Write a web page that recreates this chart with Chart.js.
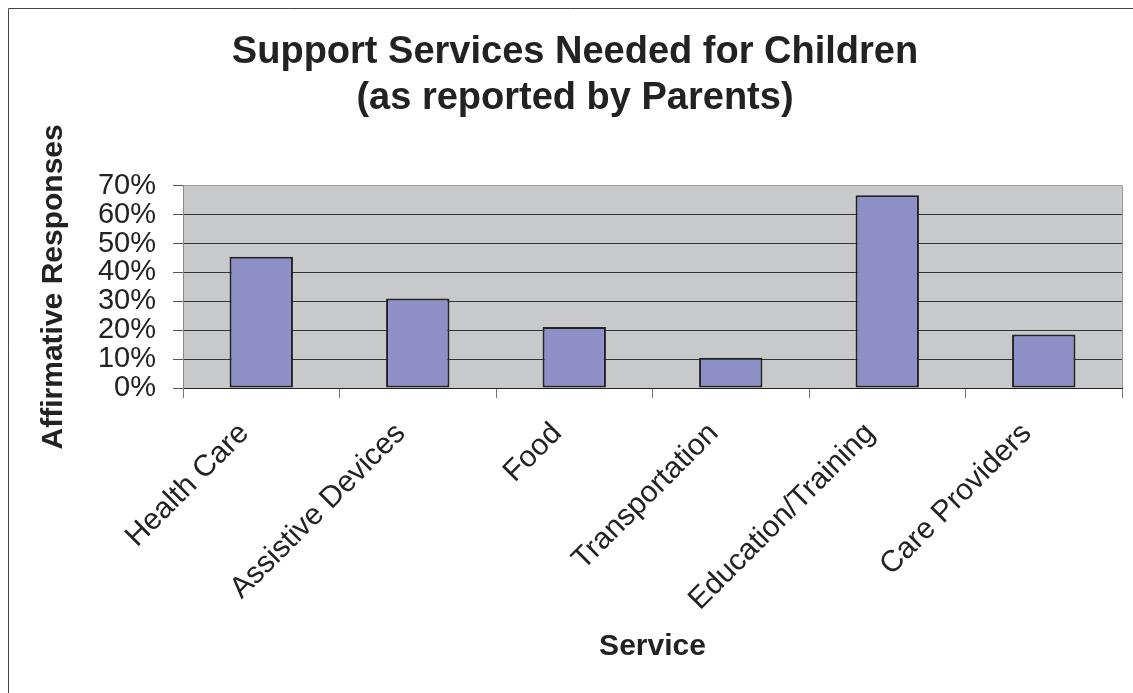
<!DOCTYPE html>
<html>
<head>
<meta charset="utf-8">
<title>Support Services Needed for Children</title>
<script src="https://cdn.jsdelivr.net/npm/chart.js@4"></script>
<style>
  html, body { margin: 0; padding: 0; background: #fff; }
  #wrap { width: 1133px; height: 693px; }
</style>
</head>
<body>
<div id="wrap"><canvas id="chart" width="1133" height="693"></canvas></div>
<script>
const services = ["Health Care", "Assistive Devices", "Food", "Transportation", "Education/Training", "Care Providers"];
const affirmative = [45.4, 31.0, 21.1, 10.5, 66.7, 18.5];
const yTicks = [0, 10, 20, 30, 40, 50, 60, 70];

const FONT = "'Liberation Sans', Arial, Helvetica, sans-serif";
const INK = "#222";

// white page, outer frame, grey plot panel with its right edge
const panel = {
  id: "panel",
  beforeDraw(chart) {
    const { ctx, chartArea: a } = chart;
    ctx.save();
    ctx.fillStyle = "#fff";
    ctx.fillRect(0, 0, chart.width, chart.height);
    ctx.strokeStyle = "#444";
    ctx.lineWidth = 1;
    ctx.beginPath();
    ctx.moveTo(8.5, chart.height);
    ctx.lineTo(8.5, 8.5);
    ctx.lineTo(chart.width, 8.5);
    ctx.stroke();
    ctx.fillStyle = "#c8c9cb";
    ctx.fillRect(a.left, a.top, a.right - a.left, a.bottom - a.top);
    ctx.strokeStyle = "#999";
    ctx.beginPath();
    ctx.moveTo(a.right + 0.5, a.top);
    ctx.lineTo(a.right + 0.5, a.bottom);
    ctx.stroke();
    ctx.restore();
  }
};

new Chart(document.getElementById("chart"), {
  type: "bar",
  data: {
    labels: services,
    datasets: [{
      data: affirmative,
      backgroundColor: "#8f8fc7",
      borderColor: "#222",
      borderWidth: 2,
      borderSkipped: false,
      categoryPercentage: 1,
      barPercentage: 0.405
    }]
  },
  options: {
    responsive: false,
    animation: false,
    layout: { padding: { left: 28, right: 11, top: 0, bottom: 0 } },
    plugins: {
      legend: { display: false },
      tooltip: { enabled: false },
      title: {
        display: true,
        text: ["Support Services Needed for Children", "(as reported by Parents)"],
        color: INK,
        font: { family: FONT, size: 38, weight: "bold", lineHeight: 1.22 },
        padding: { top: 29, bottom: 64 }
      }
    },
    scales: {
      x: {
        grid: { drawOnChartArea: false, tickLength: 10, tickColor: "#777", offset: true },
        border: { color: "#222", width: 1 },
        ticks: {
          color: INK,
          font: { family: FONT, size: 30 },
          minRotation: 45,
          maxRotation: 45,
          autoSkip: false,
          padding: 18,
          labelOffset: -17
        },
        title: {
          display: true,
          text: "Service",
          color: INK,
          font: { family: FONT, size: 30, weight: "bold", lineHeight: 1.2 },
          padding: { top: 0, bottom: 28 }
        },
        afterFit(scale) { scale.height = 305; }
      },
      y: {
        min: 0,
        max: 70,
        afterBuildTicks(scale) { scale.ticks = yTicks.map(v => ({ value: v })); },
        grid: {
          color: c => (c.tick && c.tick.value === 70 ? "#999" : "#333"),
          tickColor: "#555",
          tickLength: 10,
          lineWidth: 1
        },
        border: { color: "#888", width: 1 },
        ticks: {
          color: INK,
          font: { family: FONT, size: 29 },
          padding: 17,
          autoSkip: false,
          callback: v => v + "%"
        },
        title: {
          display: true,
          text: "Affirmative Responses",
          color: INK,
          font: { family: FONT, size: 30, weight: "bold", lineHeight: 1.2 },
          padding: { top: 8, bottom: 0 }
        },
        afterFit(scale) { scale.width = 155; }
      }
    }
  },
  plugins: [panel]
});
</script>
</body>
</html>
